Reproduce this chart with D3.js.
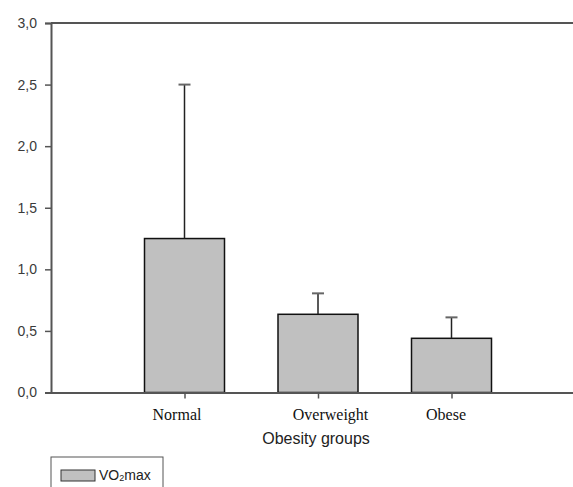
<!DOCTYPE html>
<html><head><meta charset="utf-8">
<script src="https://cdn.jsdelivr.net/npm/d3@7"></script>
<style>body{margin:0;background:#fff}svg{display:block}</style>
</head><body>
<script>
const categories = ["Normal", "Overweight", "Obese"];
const means = [1.25, 0.635, 0.44];
const errUpper = [2.50, 0.805, 0.61];
const yTicks = [0, 0.5, 1.0, 1.5, 2.0, 2.5, 3.0];
const xTitle = "Obesity groups";
const labelNudge = [-8, 12, -6];

const W = 573, H = 487;
const svg = d3.select("body").append("svg").attr("width", W).attr("height", H);

const x = d3.scalePoint().domain(categories).range([51, 585]).padding(1);
const y = d3.scaleLinear().domain([0, 3]).range([392.5, 23]);
const barW = 80;

// top frame line
svg.append("line").attr("x1", 51).attr("x2", 585).attr("y1", y(3)).attr("y2", y(3))
  .attr("stroke", "#555").attr("stroke-width", 2);

// bars
svg.selectAll("rect.bar").data(categories).join("rect").attr("class", "bar")
  .attr("x", d => x(d) - barW / 2).attr("width", barW)
  .attr("y", (d, i) => y(means[i])).attr("height", (d, i) => y(0) - y(means[i]))
  .attr("fill", "#c0c0c0").attr("stroke", "#111").attr("stroke-width", 1.5);

// error bars
svg.selectAll("line.err").data(categories).join("line").attr("class", "err")
  .attr("x1", d => x(d)).attr("x2", d => x(d))
  .attr("y1", (d, i) => y(means[i])).attr("y2", (d, i) => y(errUpper[i]))
  .attr("stroke", "#222").attr("stroke-width", 1.5);
svg.selectAll("line.cap").data(categories).join("line").attr("class", "cap")
  .attr("x1", d => x(d) - 6).attr("x2", d => x(d) + 6)
  .attr("y1", (d, i) => y(errUpper[i])).attr("y2", (d, i) => y(errUpper[i]))
  .attr("stroke", "#666").attr("stroke-width", 2);

// y axis
const yAxis = svg.append("g").attr("transform", "translate(51,0)")
  .call(d3.axisLeft(y).tickValues(yTicks).tickSize(6).tickPadding(8)
    .tickFormat(d => d3.format(".1f")(d).replace(".", ",")));
yAxis.attr("font-size", null).attr("font-family", null);
yAxis.select(".domain").attr("stroke", "#555").attr("stroke-width", 2);
yAxis.selectAll(".tick line").attr("stroke", "#555").attr("stroke-width", 1.5);
yAxis.selectAll(".tick text").attr("fill", "#3a3a3a")
  .attr("font-family", "Arial, 'Liberation Sans', sans-serif").attr("font-size", "14px");

// x axis
const xAxis = svg.append("g").attr("transform", `translate(0,${y(0)})`)
  .call(d3.axisBottom(x).tickSize(6).tickSizeOuter(0).tickPadding(10));
xAxis.attr("font-size", null).attr("font-family", null);
xAxis.select(".domain").attr("stroke", "#555").attr("stroke-width", 2);
xAxis.selectAll(".tick line").attr("stroke", "#555").attr("stroke-width", 1.5);
xAxis.selectAll(".tick text").attr("fill", "#111")
  .attr("dx", (d, i) => labelNudge[i])
  .attr("font-family", "'Times New Roman', 'Liberation Serif', serif").attr("font-size", "16px");

// x title
svg.append("text").attr("x", 316).attr("y", 444).attr("text-anchor", "middle")
  .attr("fill", "#222").attr("font-family", "Arial, 'Liberation Sans', sans-serif").attr("font-size", "16px")
  .text(xTitle);

// legend
svg.append("rect").attr("x", 51).attr("y", 457).attr("width", 112).attr("height", 40)
  .attr("fill", "#fff").attr("stroke", "#555").attr("stroke-width", 1);
svg.append("rect").attr("x", 61).attr("y", 470).attr("width", 34).attr("height", 11)
  .attr("fill", "#c0c0c0").attr("stroke", "#333").attr("stroke-width", 1);
const lt = svg.append("text").attr("x", 99).attr("y", 480).attr("fill", "#222")
  .attr("font-family", "Arial, 'Liberation Sans', sans-serif").attr("font-size", "14px");
lt.append("tspan").text("VO");
lt.append("tspan").attr("font-size", "9px").attr("dy", 1).text("2");
lt.append("tspan").attr("dy", -1).text("max");
</script>
</body></html>
